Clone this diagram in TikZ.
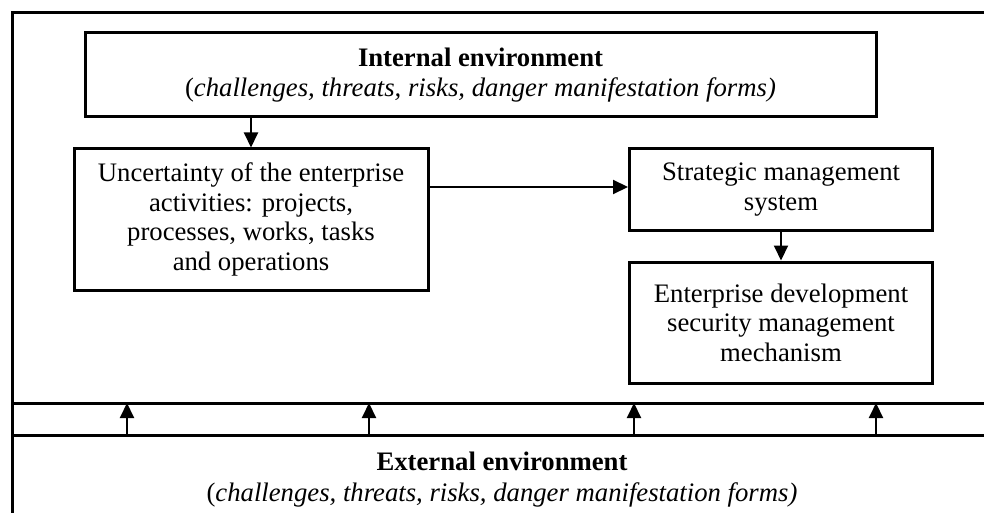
\documentclass[tikz,border=0pt]{standalone}
\usepackage{fontspec}
\setmainfont{Liberation Serif}
\usepackage{tikz}
\usetikzlibrary{arrows.meta, positioning}
\tikzstyle{bloque} = [draw, line width=3pt, rectangle, inner sep=0pt, align=center, font=\fontsize{26.7}{29.5}\selectfont]
\tikzstyle{marco} = [line width=3pt]
\tikzstyle{flecha} = [line width=2pt, -{Triangle[length=15pt,width=14pt]}]

\begin{document}
\begin{tikzpicture}[x=1pt, y=-1pt]
	\useasboundingbox (0,0) rectangle (984,513);
	% marco exterior y banda
	\draw[marco] (984,13) -- (12,13) -- (12,513);
	\draw[marco] (12,403) -- (984,403);
	\draw[marco] (12,435) -- (984,435);
	\node[bloque, minimum width=791pt, minimum height=84pt] (interno) at (480.5,75) {%
		\textbf{Internal environment}\\
		(\textit{challenges, threats, risks, danger manifestation forms)}};
	\node[bloque, minimum width=354pt, minimum height=141pt] (incert) at (251,219.5) {%
		Uncertainty of the enterprise\\
		activities: projects,\\
		processes, works, tasks\\
		and operations};
	\node[bloque, minimum width=303pt, minimum height=81pt] (estrategia) at (781,189.5) {%
		Strategic management\\
		system};
	\node[bloque, minimum width=303pt, minimum height=121pt] (mecanismo) at (781,322.5) {%
		Enterprise development\\
		security management\\
		mechanism};
	\node[align=center, font=\fontsize{26.7}{31}\selectfont] (externo) at (502,480) {%
		\textbf{External environment}\\
		(\textit{challenges, threats, risks, danger manifestation forms)}};
	\draw[flecha] (interno.south -| incert.north) -- (incert.north);
	\draw[flecha] (incert.east |- 0,187) -- (estrategia.west |- 0,187);
	\draw[flecha] (estrategia.south) -- (mecanismo.north);
	% flechas del entorno externo
	\foreach \x [count=\i] in {127,369,634,876}{
		\coordinate (abajo\i) at (\x,435);
		\coordinate (arriba\i) at (\x,403);
		\draw[flecha] (abajo\i) -- (arriba\i);
	}
\end{tikzpicture}
\end{document}
